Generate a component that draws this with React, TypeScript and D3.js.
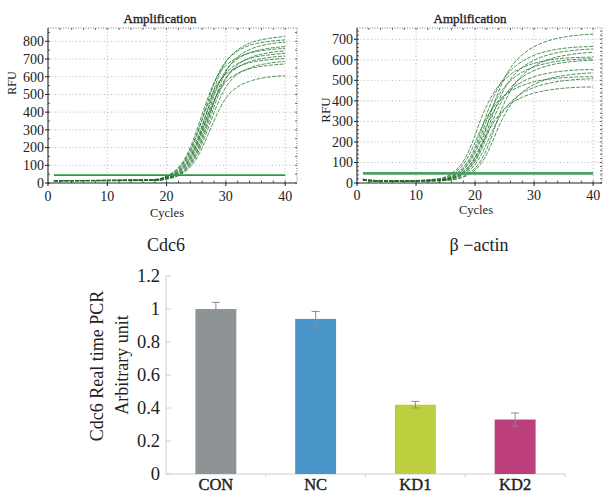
import React from "react";
import * as d3 from "d3";

const W = 605;
const H = 495;
const serif = "'Liberation Serif', 'Times New Roman', serif";

// ---- Cdc6 amplification (left panel)
const cdc6Cycles = [1, 18, 20, 22, 23, 24, 25, 26, 27, 28, 29, 30, 32, 34, 37, 40];
const cdc6Curves = [
  [13, 16, 29, 62, 95, 144, 217, 315, 422, 528, 618, 683, 752, 789, 815, 827],
  [13, 19, 35, 77, 117, 176, 260, 360, 463, 559, 635, 686, 745, 777, 798, 808],
  [13, 15, 25, 50, 76, 115, 174, 257, 355, 458, 552, 627, 712, 753, 783, 795],
  [13, 16, 28, 59, 89, 135, 203, 294, 393, 492, 575, 636, 701, 735, 759, 770],
  [13, 20, 39, 88, 133, 200, 289, 387, 484, 566, 626, 663, 708, 734, 751, 760],
  [13, 14, 24, 48, 72, 109, 164, 241, 334, 429, 518, 588, 667, 706, 734, 746],
  [13, 18, 32, 71, 107, 161, 236, 326, 420, 506, 575, 621, 674, 703, 722, 732],
  [13, 16, 27, 55, 84, 126, 190, 275, 367, 458, 536, 593, 653, 685, 707, 717],
  [13, 20, 37, 82, 123, 186, 268, 358, 448, 524, 579, 613, 655, 679, 695, 703],
  [13, 14, 23, 45, 67, 101, 152, 223, 307, 396, 477, 541, 614, 649, 675, 686],
  [13, 18, 31, 66, 99, 148, 218, 300, 386, 465, 528, 571, 619, 645, 663, 672],
  [13, 14, 22, 41, 61, 91, 135, 198, 273, 350, 422, 479, 543, 574, 597, 606],
];
const cdc6Threshold = 45;
const cdc6YTicks = [0, 100, 200, 300, 400, 500, 600, 700, 800];

// ---- beta-actin amplification (right panel)
const actinCycles = [1, 3, 8, 14, 16, 18, 19, 20, 21, 22, 23, 24, 25, 26, 28, 30, 33, 36, 40];
const actinCurves = [
  [16, 11, 9, 13, 24, 53, 82, 124, 189, 275, 368, 446, 511, 561, 625, 664, 698, 715, 725],
  [18, 12, 8, 17, 33, 76, 115, 174, 252, 338, 410, 469, 514, 547, 593, 622, 647, 659, 665],
  [15, 9, 10, 13, 23, 49, 74, 113, 171, 248, 332, 402, 460, 505, 563, 598, 629, 644, 653],
  [17, 10, 9, 11, 16, 32, 48, 73, 110, 167, 242, 324, 393, 450, 525, 569, 607, 625, 637],
  [19, 13, 11, 22, 46, 106, 161, 233, 312, 378, 432, 474, 504, 529, 562, 583, 601, 610, 613],
  [14, 8, 9, 16, 31, 70, 105, 159, 230, 308, 373, 427, 468, 498, 540, 566, 588, 600, 605],
  [16, 10, 8, 12, 22, 45, 69, 104, 157, 228, 304, 369, 422, 463, 516, 548, 576, 590, 598],
  [18, 11, 10, 15, 29, 64, 97, 146, 211, 282, 341, 390, 428, 455, 493, 518, 538, 548, 553],
  [15, 9, 9, 11, 15, 28, 42, 63, 94, 142, 205, 274, 332, 380, 443, 480, 512, 527, 537],
  [17, 12, 10, 20, 40, 91, 137, 198, 264, 320, 366, 401, 427, 447, 475, 493, 508, 515, 518],
  [16, 10, 9, 12, 20, 40, 60, 90, 135, 194, 259, 314, 359, 393, 438, 466, 489, 501, 508],
  [14, 9, 8, 15, 26, 56, 83, 125, 179, 239, 289, 331, 363, 386, 418, 438, 455, 464, 468],
];
const actinThreshold = 47;
const actinYTicks = [0, 100, 200, 300, 400, 500, 600, 700];

const cycleTicks = [0, 10, 20, 30, 40];

// ---- relative expression bars
const groups = ["CON", "NC", "KD1", "KD2"];
const expression = [1.0, 0.94, 0.42, 0.33];
const expressionErr = [0.04, 0.045, 0.02, 0.04];
const barColors = ["#8e9496", "#4a96ca", "#bdce3f", "#bc3e7a"];
const barTicks = [0, 0.2, 0.4, 0.6, 0.8, 1, 1.2];

type AmpProps = {
  px0: number;
  px1: number;
  xMax: number;
  yMax: number;
  yTicks: number[];
  yMinor: number;
  cycles: number[];
  curves: number[][];
  threshold: number;
  thrColor: string;
  thrWidth: number;
  titleX: number;
  rfuX: number;
  rfuY: number;
  rfuSize: number;
  cyclesX: number;
  cyclesY: number;
  tickY: number;
};

function AmpPlot(p: AmpProps) {
  const top = 28;
  const bottom = 183;
  const x = d3.scaleLinear().domain([0, p.xMax]).range([p.px0, p.px1]);
  const y = d3.scaleLinear().domain([0, p.yMax]).range([bottom, top]);
  const line = d3
    .line<number>()
    .x((_, i) => x(p.cycles[i]))
    .y((v) => y(v))
    .curve(d3.curveMonotoneX);
  const minorX = d3.range(2, p.xMax, 2);
  const minorY = d3.range(0, p.yMax, p.yMinor);

  return (
    <g fontFamily={serif}>
      {/* dotted grid */}
      {p.yTicks.slice(1).map((t) => (
        <line key={"gy" + t} x1={p.px0} x2={p.px1} y1={y(t)} y2={y(t)}
          stroke="#9a9a9a" strokeWidth={0.7} strokeDasharray="1 2.5" />
      ))}
      {cycleTicks.slice(1).map((t) => (
        <line key={"gx" + t} x1={x(t)} x2={x(t)} y1={top} y2={bottom}
          stroke="#9a9a9a" strokeWidth={0.7} strokeDasharray="1 2.5" />
      ))}

      {/* frame: dotted top / right, solid left / bottom */}
      <line x1={p.px0} x2={p.px1} y1={top} y2={top} stroke="#555" strokeWidth={0.8} strokeDasharray="1 1.5" />
      <line x1={p.px1} x2={p.px1} y1={top} y2={bottom} stroke="#555" strokeWidth={0.8} strokeDasharray="1 1.5" />
      {minorX.map((t) => (
        <g key={"mx" + t}>
          <line x1={x(t)} x2={x(t)} y1={bottom} y2={bottom - 2.5} stroke="#333" strokeWidth={0.8} />
          <line x1={x(t)} x2={x(t)} y1={top} y2={top + 2} stroke="#444" strokeWidth={0.8} />
        </g>
      ))}
      {minorY.map((t) => (
        <g key={"my" + t}>
          <line x1={p.px0} x2={p.px0 + 2} y1={y(t)} y2={y(t)} stroke="#333" strokeWidth={0.8} />
          <line x1={p.px1} x2={p.px1 - 2} y1={y(t)} y2={y(t)} stroke="#444" strokeWidth={0.8} />
        </g>
      ))}
      <line x1={p.px0} x2={p.px0} y1={top} y2={bottom + 1} stroke="#222" strokeWidth={1.1} />
      <line x1={p.px0} x2={p.px1} y1={bottom} y2={bottom} stroke="#222" strokeWidth={1.1} />

      {p.yTicks.map((t) => (
        <g key={"yt" + t}>
          <line x1={p.px0 - 3} x2={p.px0} y1={y(t)} y2={y(t)} stroke="#222" strokeWidth={1} />
          <text x={p.px0 - 4} y={y(t)} dy="0.35em" textAnchor="end" fontSize={14} fill="#222">
            {t}
          </text>
        </g>
      ))}
      {cycleTicks.map((t) => (
        <g key={"xt" + t}>
          <line x1={x(t)} x2={x(t)} y1={bottom} y2={bottom + 3} stroke="#222" strokeWidth={1} />
          <text x={x(t)} y={p.tickY} dy="0.35em" textAnchor="middle" fontSize={14} fill="#222">
            {t}
          </text>
        </g>
      ))}

      {/* amplification curves */}
      {p.curves.map((c, i) => (
        <path key={"c" + i} d={line(c) ?? ""} fill="none" stroke="#1c7029"
          strokeWidth={0.9} strokeDasharray="4 1.3" opacity={0.85} />
      ))}
      <line x1={x(1)} x2={x(40)} y1={y(p.threshold)} y2={y(p.threshold)}
        stroke={p.thrColor} strokeWidth={p.thrWidth} />

      <text x={p.titleX} y={18} dy="0.35em" textAnchor="middle" fontSize={13} fill="#222"
        stroke="#222" strokeWidth={0.35}>
        Amplification
      </text>
      <text transform={`translate(${p.rfuX},${p.rfuY}) rotate(-90)`} dy="0.35em" textAnchor="middle"
        fontSize={p.rfuSize} fill="#222">
        RFU
      </text>
      <text x={p.cyclesX} y={p.cyclesY} dy="0.35em" textAnchor="middle" fontSize={12.5} fill="#222">
        Cycles
      </text>
    </g>
  );
}

function BarPlot() {
  const x = d3.scaleBand<string>().domain(groups).range([166, 565]).paddingInner(0.59).paddingOuter(0.295);
  const y = d3.scaleLinear().domain([0, 1.2]).range([474, 276]);
  const step = x.step();
  const [r0] = x.range();
  const cap = 4;

  return (
    <g fontFamily={serif}>
      <text x={166} y={245} dy="0.35em" textAnchor="middle" fontSize={18} fill="#222">Cdc6</text>
      <text x={479} y={245} dy="0.35em" textAnchor="middle" fontSize={18} fill="#222">β −actin</text>

      <line x1={166} x2={166} y1={y(1.2)} y2={y(0)} stroke="#d0d0d0" strokeWidth={1} />
      <line x1={166} x2={565} y1={y(0)} y2={y(0)} stroke="#cfcfcf" strokeWidth={1} />
      {barTicks.map((t) => (
        <g key={"bt" + t}>
          <line x1={166} x2={171} y1={y(t)} y2={y(t)} stroke="#d0d0d0" strokeWidth={1} />
          <text x={160} y={y(t)} dy="0.35em" textAnchor="end" fontSize={18.5} fill="#222">
            {t}
          </text>
        </g>
      ))}
      {groups.map((_, i) => (
        <line key={"bx" + i} x1={r0 + step * (i + 1)} x2={r0 + step * (i + 1)} y1={y(0)} y2={y(0) + 3}
          stroke="#cfcfcf" strokeWidth={1} />
      ))}

      {groups.map((g, i) => {
        const cx = (x(g) ?? 0) + x.bandwidth() / 2;
        const hi = y(expression[i] + expressionErr[i]);
        const lo = y(expression[i] - expressionErr[i]);
        return (
          <g key={g}>
            <rect x={x(g)} y={y(expression[i])} width={x.bandwidth()} height={y(0) - y(expression[i])}
              fill={barColors[i]} />
            <line x1={cx} x2={cx} y1={hi} y2={lo} stroke="#8c8c8c" strokeWidth={1} />
            <line x1={cx - cap} x2={cx + cap} y1={hi} y2={hi} stroke="#8c8c8c" strokeWidth={1} />
            <line x1={cx - cap} x2={cx + cap} y1={lo} y2={lo} stroke="#8c8c8c" strokeWidth={1} opacity={0.7} />
            <text x={cx} y={490} textAnchor="middle" fontSize={16.5} fill="#222"
              stroke="#222" strokeWidth={0.4}>{g}</text>
          </g>
        );
      })}

      <text transform="translate(97,366) rotate(-90)" dy="0.35em" textAnchor="middle" fontSize={18} fill="#222">
        Cdc6 Real time PCR
      </text>
      <text transform="translate(121.5,365) rotate(-90)" dy="0.35em" textAnchor="middle" fontSize={18} fill="#222">
        Arbitrary unit
      </text>
    </g>
  );
}

export default function App() {
  return (
    <svg width={W} height={H} style={{ position: "absolute", left: 0, top: 0, background: "#fff" }}>
      <rect width={W} height={H} fill="#fff" />
      <AmpPlot px0={48} px1={297} xMax={42} yMax={875} yTicks={cdc6YTicks} yMinor={50}
        cycles={cdc6Cycles} curves={cdc6Curves} threshold={cdc6Threshold}
        thrColor="#2e9a3e" thrWidth={1.8} titleX={160} rfuX={12} rfuY={83} rfuSize={12}
        cyclesX={167} cyclesY={213} tickY={196} />
      <AmpPlot px0={357} px1={602} xMax={41.5} yMax={755} yTicks={actinYTicks} yMinor={20}
        cycles={actinCycles} curves={actinCurves} threshold={actinThreshold}
        thrColor="#4a9e66" thrWidth={2.6} titleX={470} rfuX={325} rfuY={110} rfuSize={13}
        cyclesX={476} cyclesY={210} tickY={195} />
      <BarPlot />
    </svg>
  );
}
